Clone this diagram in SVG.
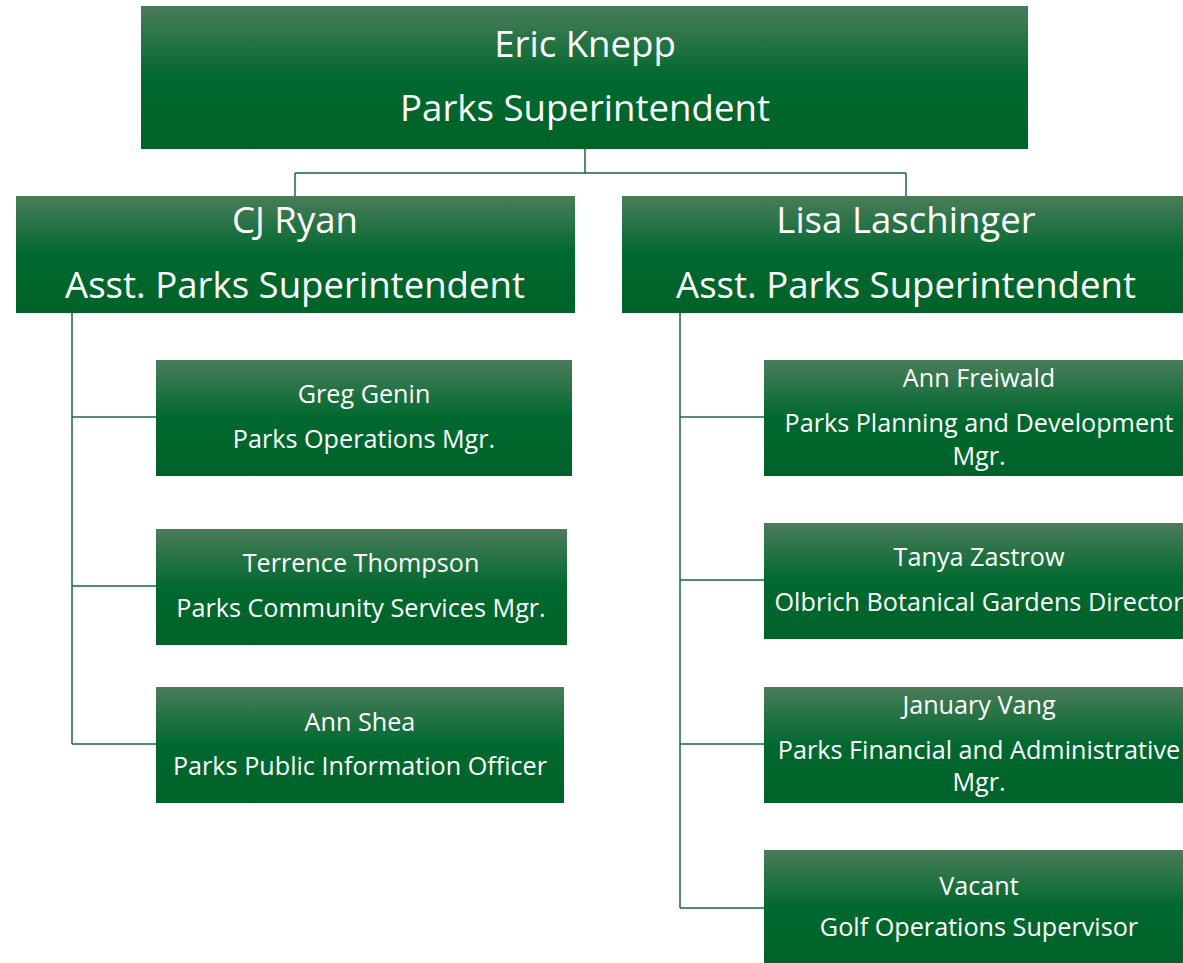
<svg xmlns="http://www.w3.org/2000/svg" width="1183" height="963" viewBox="0 0 1183 963">
<defs>
<linearGradient id="g" x1="0" y1="0" x2="0" y2="1">
<stop offset="0" stop-color="#4b7c5a"/>
<stop offset="0.5" stop-color="#00692f"/>
<stop offset="1" stop-color="#006229"/>
</linearGradient>
<style>
.box{fill:url(#g);}
.t{font-family:"Open Sans","Liberation Sans",sans-serif;fill:#ffffff;text-anchor:middle;}
.big{font-size:36.6px;}
.sm{font-size:25.2px;}
.c{fill:none;stroke:#196b3b;stroke-width:1.5;}
</style>
</defs>
<rect width="1183" height="963" fill="#ffffff"/>
<g id="connectors">
<path class="c" d="M585 148 V173 M295 173 H906 M295 173 V196 M906 173 V196"/>
<path class="c" d="M72 312 V744 M72 417 H156 M72 586 H156 M72 744 H156"/>
<path class="c" d="M680 312 V908 M680 417 H764 M680 580 H764 M680 744 H764 M680 908 H764"/>
</g>
<g id="eric-knepp">
<rect class="box" x="141" y="6" width="887" height="143"/>
<text class="t big" x="585" y="57">Eric Knepp</text>
<text class="t big" x="585" y="121">Parks Superintendent</text>
</g>
<g id="cj-ryan">
<rect class="box" x="16" y="196" width="559" height="117"/>
<text class="t big" x="295" y="233">CJ Ryan</text>
<text class="t big" x="295" y="298">Asst. Parks Superintendent</text>
</g>
<g id="lisa-laschinger">
<rect class="box" x="622" y="196" width="568" height="117"/>
<text class="t big" x="906" y="233">Lisa Laschinger</text>
<text class="t big" x="906" y="298">Asst. Parks Superintendent</text>
</g>
<g id="greg-genin">
<rect class="box" x="156" y="360" width="416" height="116"/>
<text class="t sm" x="364" y="403">Greg Genin</text>
<text class="t sm" x="364" y="448">Parks Operations Mgr.</text>
</g>
<g id="terrence-thompson">
<rect class="box" x="156" y="529" width="411" height="116"/>
<text class="t sm" x="361" y="572">Terrence Thompson</text>
<text class="t sm" x="361" y="617">Parks Community Services Mgr.</text>
</g>
<g id="ann-shea">
<rect class="box" x="156" y="687" width="408" height="116"/>
<text class="t sm" x="360" y="731">Ann Shea</text>
<text class="t sm" x="360" y="775">Parks Public Information Officer</text>
</g>
<g id="ann-freiwald">
<rect class="box" x="764" y="360" width="430" height="116"/>
<text class="t sm" x="979" y="387">Ann Freiwald</text>
<text class="t sm" x="979" y="432">Parks Planning and Development</text>
<text class="t sm" x="979" y="465">Mgr.</text>
</g>
<g id="tanya-zastrow">
<rect class="box" x="764" y="523" width="430" height="116"/>
<text class="t sm" x="979" y="566">Tanya Zastrow</text>
<text class="t sm" x="979" y="611">Olbrich Botanical Gardens Director</text>
</g>
<g id="january-vang">
<rect class="box" x="764" y="687" width="430" height="116"/>
<text class="t sm" x="979" y="714">January Vang</text>
<text class="t sm" x="979" y="759">Parks Financial and Administrative</text>
<text class="t sm" x="979" y="791">Mgr.</text>
</g>
<g id="vacant">
<rect class="box" x="764" y="850" width="430" height="113"/>
<text class="t sm" x="979" y="895">Vacant</text>
<text class="t sm" x="979" y="936">Golf Operations Supervisor</text>
</g>
</svg>
